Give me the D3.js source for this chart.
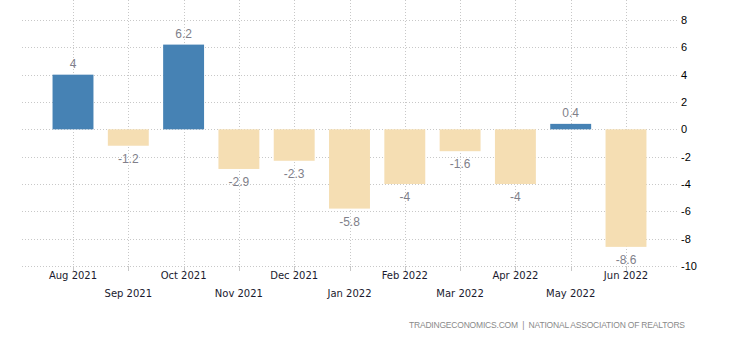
<!DOCTYPE html>
<html><head><meta charset="utf-8">
<script src="https://cdn.jsdelivr.net/npm/d3@7"></script>
<style>body{margin:0;background:#fff}svg{display:block}</style>
</head><body>
<svg id="c" width="730" height="340"></svg>
<script>
const categories = ["Aug 2021","Sep 2021","Oct 2021","Nov 2021","Dec 2021","Jan 2022","Feb 2022","Mar 2022","Apr 2022","May 2022","Jun 2022"];
const values = [4, -1.2, 6.2, -2.9, -2.3, -5.8, -4, -1.6, -4, 0.4, -8.6];
const valueLabels = ["4","-1.2","6.2","-2.9","-2.3","-5.8","-4","-1.6","-4","0.4","-8.6"];
const yTicks = [8, 6, 4, 2, 0, -2, -4, -6, -8, -10];
const source = "TRADINGECONOMICS.COM  |  NATIONAL ASSOCIATION OF REALTORS";

const svg = d3.select("#c");
const x = d3.scaleBand().domain(categories).range([45.35, 653.65]).paddingInner(0.26).paddingOuter(0.13);
const y = d3.scaleLinear().domain([-10, 8]).range([266, 20]);
const gridLeft = 22, gridRight = 677;

// horizontal grid
svg.append("g").selectAll("line").data(yTicks).join("line")
  .attr("x1", gridLeft).attr("x2", gridRight)
  .attr("y1", d => Math.round(y(d)) + 0.5).attr("y2", d => Math.round(y(d)) + 0.5)
  .attr("stroke", "#c8c8c8").attr("stroke-dasharray", "1,2");

// vertical grid
svg.append("g").selectAll("line").data(categories).join("line")
  .attr("x1", d => Math.round(x(d) + x.bandwidth()/2) + 0.5)
  .attr("x2", d => Math.round(x(d) + x.bandwidth()/2) + 0.5)
  .attr("y1", 0).attr("y2", y(-10))
  .attr("stroke", "#c8c8c8").attr("stroke-dasharray", "1,2");

// ticks at bottom
svg.append("g").selectAll("line").data(categories).join("line")
  .attr("x1", d => Math.round(x(d) + x.bandwidth()/2) + 0.5)
  .attr("x2", d => Math.round(x(d) + x.bandwidth()/2) + 0.5)
  .attr("y1", y(-10)).attr("y2", y(-10) + 5)
  .attr("stroke", "#c8c8c8");

// bars
svg.append("g").selectAll("rect").data(values).join("rect")
  .attr("x", (d, i) => x(categories[i]))
  .attr("width", x.bandwidth())
  .attr("y", d => y(Math.max(0, d)))
  .attr("height", d => Math.abs(y(d) - y(0)))
  .attr("fill", d => d >= 0 ? "#4682b4" : "#f5deb3");

// value labels
svg.append("g").selectAll("text").data(values).join("text")
  .attr("x", (d, i) => x(categories[i]) + x.bandwidth()/2)
  .attr("y", d => d >= 0 ? y(d) - 7 : y(d) + 17)
  .attr("text-anchor", "middle")
  .attr("font-family", "Liberation Sans, Arial, sans-serif").attr("font-size", 12)
  .attr("fill", "#7f7f8a")
  .text((d, i) => valueLabels[i]);

// y axis labels
svg.append("g").selectAll("text").data(yTicks).join("text")
  .attr("x", 681).attr("y", d => y(d) + 4)
  .attr("font-family", "Liberation Sans, Arial, sans-serif").attr("font-size", 11)
  .attr("fill", "#000")
  .text(d => d);

// x axis labels
svg.append("g").selectAll("text").data(categories).join("text")
  .attr("x", d => x(d) + x.bandwidth()/2)
  .attr("y", (d, i) => i % 2 === 0 ? 279 : 297)
  .attr("text-anchor", "middle")
  .attr("font-family", "DejaVu Sans, sans-serif").attr("font-size", 10)
  .attr("fill", "#1a1a2e")
  .text(d => d);

// source
svg.append("text").attr("x", 409).attr("y", 328)
  .attr("font-family", "Liberation Sans, Arial, sans-serif").attr("font-size", 8.5)
  .attr("textLength", 276).attr("lengthAdjust", "spacing")
  .attr("xml:space", "preserve").style("white-space", "pre")
  .attr("fill", "#8a8a8a")
  .text(source);
</script>
</body></html>
